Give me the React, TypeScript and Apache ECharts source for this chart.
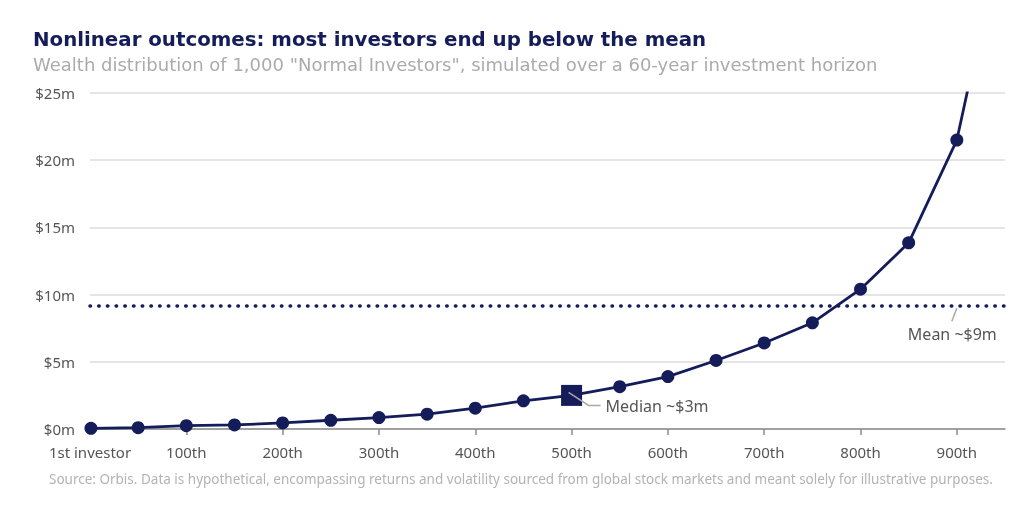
import React, { useEffect, useRef } from "react";
import * as echarts from "echarts";

const ranks = [1, 50, 100, 150, 200, 250, 300, 350, 400, 450, 500, 550, 600, 650, 700, 750, 800, 850, 900, 950];
const wealth = [0.05, 0.1, 0.25, 0.3, 0.45, 0.65, 0.85, 1.1, 1.55, 2.1, 2.5, 3.15, 3.9, 5.1, 6.4, 7.9, 10.4, 13.85, 21.5, 38];
const medianRank = 500;
const medianValue = 2.5;
const meanValue = 9.2;
const xLabelValues = [0, 100, 200, 300, 400, 500, 600, 700, 800, 900];
const xTickValues = [100, 200, 300, 400, 500, 600, 700, 800, 900];

const TITLE = "Nonlinear outcomes: most investors end up below the mean";
const SUBTITLE = 'Wealth distribution of 1,000 "Normal Investors", simulated over a 60-year investment horizon';
const SOURCE = "Source: Orbis. Data is hypothetical, encompassing returns and volatility sourced from global stock markets and meant solely for illustrative purposes.";

const NAVY = "#141c5a";
const FONT = "Noto Sans";
const HEAD_FONT = "DejaVu Sans";

export default function App() {
  const ref = useRef<HTMLDivElement>(null);
  useEffect(() => {
    if (!ref.current) return;
    const chart = echarts.init(ref.current, undefined, { renderer: "svg" });
    const data = ranks.map((r, i) => {
      const item: any = { value: [r, wealth[i]] };
      if (r === medianRank) {
        item.symbol = "rect";
        item.symbolSize = 21;
      }
      return item;
    });
    chart.setOption({
      animation: false,
      textStyle: { fontFamily: FONT },
      title: [
        { text: TITLE, left: 28, top: 22, padding: 5, textStyle: { fontFamily: HEAD_FONT, fontSize: 19.8, lineHeight: 24, fontWeight: "bold", color: NAVY } },
        { text: SUBTITLE, left: 28, top: 49, padding: 5, textStyle: { fontFamily: HEAD_FONT, fontSize: 18, lineHeight: 20, fontWeight: "normal", color: "#ababab" } },
        { text: SOURCE, left: 44, top: 467, textStyle: { fontFamily: FONT, fontSize: 13.5, fontWeight: 400, color: "#b3b3b3" } },
      ],
      grid: { left: 90, right: 31, top: 93, bottom: 81, containLabel: false },
      xAxis: {
        type: "value",
        min: 0,
        max: 950,
        interval: 100,
        splitLine: { show: false },
        axisLine: { show: true, lineStyle: { color: "#8a8a8a", width: 1.5 } },
        axisTick: { show: true, length: 6, lineStyle: { color: "#8a8a8a", width: 1.5 }, customValues: xTickValues },
        axisLabel: {
          customValues: xLabelValues,
          color: "#555555",
          fontSize: 15,
          margin: 15,
          formatter: (v: number) => (v === 0 ? "1st investor" : v + "th"),
        },
      },
      yAxis: {
        type: "value",
        min: 0,
        max: 25,
        interval: 5,
        axisLine: { show: false },
        axisTick: { show: false },
        splitLine: { lineStyle: { color: "#dddddd", width: 1.5 } },
        axisLabel: { color: "#555555", fontSize: 15, margin: 15, formatter: (v: number) => "$" + v + "m" },
      },
      series: [
        {
          type: "line",
          data,
          clip: true,
          symbol: "circle",
          symbolSize: 13,
          itemStyle: { color: NAVY },
          lineStyle: { color: NAVY, width: 2.8 },
          z: 3,
          markLine: {
            silent: true,
            symbol: "none",
            label: { show: false },
            lineStyle: { color: NAVY, width: 3.5, type: [0.5, 8.2], cap: "round" },
            data: [{ yAxis: meanValue }],
            z: 2,
          },
        },
      ],
    });
    const [mx, my] = chart.convertToPixel({ gridIndex: 0 }, [medianRank, medianValue]) as number[];
    const [ex, ey] = chart.convertToPixel({ gridIndex: 0 }, [900, meanValue]) as number[];
    chart.setOption({
      graphic: [
        {
          type: "polyline",
          shape: { points: [[mx - 3, my - 3], [mx + 17, my + 10], [mx + 29, my + 10]] },
          style: { stroke: "#a8a8a8", lineWidth: 1.5, fill: "none" },
          z: 10,
        },
        {
          type: "text",
          x: mx + 34,
          y: my + 11,
          style: { text: "Median ~$3m", fontFamily: FONT, fontSize: 16, fill: "#555555", verticalAlign: "middle", align: "left" },
          z: 10,
        },
        {
          type: "line",
          shape: { x1: ex, y1: ey + 3, x2: ex - 5, y2: ey + 16 },
          style: { stroke: "#a8a8a8", lineWidth: 1.5 },
          z: 10,
        },
        {
          type: "text",
          x: ex + 40,
          y: ey + 29,
          style: { text: "Mean ~$9m", fontFamily: FONT, fontSize: 16, fill: "#555555", verticalAlign: "middle", align: "right" },
          z: 10,
        },
      ],
    });
    return () => chart.dispose();
  }, []);
  return <div ref={ref} style={{ position: "fixed", left: 0, top: 0, width: 1036, height: 510 }} />;
}
